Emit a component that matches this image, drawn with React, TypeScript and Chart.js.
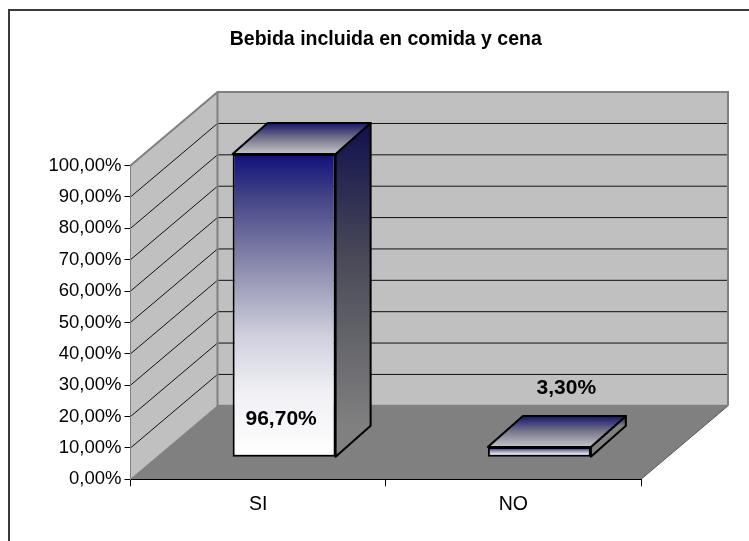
import React, { useEffect, useRef } from "react";
import { Chart, registerables } from "chart.js";

Chart.register(...registerables);

const categories = ["SI", "NO"];
const shares = [96.7, 3.3];
const shareLabels = ["96,70%", "3,30%"];
const chartTitle = "Bebida incluida en comida y cena";

const FONT = "'Liberation Sans', Arial, sans-serif";
const PLOT = { left: 130.5, right: 641, top: 165.6, bottom: 479.3 };
const WALL = { dx: 87, dy: -73.5 };
const BAR_SHIFT = { dx: 26, dy: -22 };
const BAR_DEPTH = { dx: 35, dy: -31 };
const LABEL_SHIFT = [
  { dx: -3, dy: -38 },
  { dx: 27, dy: -69 },
];

function poly(ctx: CanvasRenderingContext2D, pts: number[][]) {
  ctx.beginPath();
  pts.forEach((p, i) => (i ? ctx.lineTo(p[0], p[1]) : ctx.moveTo(p[0], p[1])));
  ctx.closePath();
}

const frontGradient = (c: any) => {
  const chart = c.chart;
  if (!chart.chartArea || c.raw === undefined) return "#8888aa";
  const y = chart.scales.y;
  const g = chart.ctx.createLinearGradient(0, y.getPixelForValue(c.raw), 0, y.getPixelForValue(0));
  g.addColorStop(0, "#10107c");
  g.addColorStop(0.15, "#464688");
  g.addColorStop(0.38, "#8e8eb0");
  g.addColorStop(0.6, "#d0d0de");
  g.addColorStop(0.78, "#efeff5");
  g.addColorStop(1, "#ffffff");
  return g;
};

const scenePlugin = {
  id: "scene3d",
  beforeDraw(chart: any) {
    const { ctx, chartArea: a, scales } = chart;
    const { dx, dy } = WALL;
    ctx.save();
    // outer frame
    ctx.strokeStyle = "#3a3a3a";
    ctx.lineWidth = 2;
    ctx.beginPath();
    ctx.moveTo(9, 541);
    ctx.lineTo(9, 10);
    ctx.lineTo(749, 10);
    ctx.stroke();
    // back wall
    ctx.fillStyle = "#c0c0c0";
    ctx.fillRect(a.left + dx, a.top + dy, a.right - a.left, a.bottom - a.top);
    // left wall
    poly(ctx, [
      [a.left, a.top],
      [a.left + dx, a.top + dy],
      [a.left + dx, a.bottom + dy],
      [a.left, a.bottom],
    ]);
    ctx.fill();
    // grid lines
    ctx.strokeStyle = "#111";
    ctx.lineWidth = 1;
    for (const t of scales.y.ticks) {
      if (t.value === 0) continue;
      const y = scales.y.getPixelForValue(t.value);
      ctx.beginPath();
      ctx.moveTo(a.left, y);
      ctx.lineTo(a.left + dx, y + dy);
      ctx.lineTo(a.right + dx, y + dy);
      ctx.stroke();
    }
    // floor
    ctx.fillStyle = "#808080";
    poly(ctx, [
      [a.left, a.bottom],
      [a.left + dx, a.bottom + dy],
      [a.right + dx, a.bottom + dy],
      [a.right, a.bottom],
    ]);
    ctx.fill();
    ctx.strokeStyle = "#555";
    ctx.lineWidth = 1;
    ctx.beginPath();
    ctx.moveTo(a.right, a.bottom);
    ctx.lineTo(a.right + dx, a.bottom + dy);
    ctx.stroke();
    // wall edges
    ctx.strokeStyle = "#808080";
    ctx.lineWidth = 2;
    ctx.beginPath();
    ctx.moveTo(a.left, a.top);
    ctx.lineTo(a.left + dx, a.top + dy);
    ctx.lineTo(a.right + dx, a.top + dy);
    ctx.lineTo(a.right + dx, a.bottom + dy);
    ctx.moveTo(a.left + dx, a.top + dy);
    ctx.lineTo(a.left + dx, a.bottom + dy);
    ctx.lineTo(a.right + dx, a.bottom + dy);
    ctx.stroke();
    ctx.lineWidth = 1;
    ctx.beginPath();
    ctx.moveTo(a.left, a.top);
    ctx.lineTo(a.left, a.bottom);
    ctx.moveTo(a.left, a.bottom);
    ctx.lineTo(a.left + dx, a.bottom + dy);
    ctx.stroke();
    ctx.restore();
  },
  beforeDatasetDraw(chart: any) {
    chart.ctx.save();
    chart.ctx.translate(BAR_SHIFT.dx, BAR_SHIFT.dy);
  },
  afterDatasetDraw(chart: any, args: any) {
    const { ctx } = chart;
    const { dx, dy } = BAR_DEPTH;
    args.meta.data.forEach((bar: any) => {
      const l = bar.x - bar.width / 2;
      const r = bar.x + bar.width / 2;
      const top = bar.y;
      const base = bar.base;
      ctx.lineWidth = 2;
      ctx.strokeStyle = "#000";
      ctx.lineJoin = "round";
      // side face
      const side = ctx.createLinearGradient(0, top + dy, 0, base + dy);
      side.addColorStop(0, "#10104e");
      side.addColorStop(0.45, "#4a4a58");
      side.addColorStop(1, "#808080");
      ctx.fillStyle = side;
      poly(ctx, [
        [r, top],
        [r + dx, top + dy],
        [r + dx, base + dy],
        [r, base],
      ]);
      ctx.fill();
      ctx.stroke();
      // top face
      const cap = ctx.createLinearGradient(0, top + dy, 0, top);
      cap.addColorStop(0, "#14146e");
      cap.addColorStop(0.5, "#77778c");
      cap.addColorStop(1, "#c4c4c8");
      ctx.fillStyle = cap;
      poly(ctx, [
        [l, top],
        [l + dx, top + dy],
        [r + dx, top + dy],
        [r, top],
      ]);
      ctx.fill();
      ctx.stroke();
    });
    ctx.restore();
  },
  afterDatasetsDraw(chart: any) {
    const { ctx } = chart;
    const meta = chart.getDatasetMeta(0);
    ctx.save();
    ctx.font = `bold 21px ${FONT}`;
    ctx.fillStyle = "#000";
    ctx.textAlign = "center";
    ctx.textBaseline = "middle";
    meta.data.forEach((bar: any, i: number) => {
      ctx.fillText(
        shareLabels[i],
        bar.x + BAR_SHIFT.dx + LABEL_SHIFT[i].dx,
        bar.base + BAR_SHIFT.dy + LABEL_SHIFT[i].dy
      );
    });
    ctx.restore();
  },
};

export default function App() {
  const ref = useRef<HTMLCanvasElement>(null);
  useEffect(() => {
    const chart = new Chart(ref.current!, {
      type: "bar",
      data: {
        labels: categories,
        datasets: [
          {
            data: shares,
            backgroundColor: frontGradient,
            borderColor: "#000",
            borderWidth: 2,
            borderSkipped: false,
            categoryPercentage: 0.4035,
            barPercentage: 1,
          },
        ],
      },
      plugins: [scenePlugin],
      options: {
        responsive: false,
        animation: false,
        devicePixelRatio: 1,
        layout: {
          padding: { left: 0, right: 749 - PLOT.right, top: 0, bottom: 0 },
        },
        plugins: {
          legend: { display: false },
          tooltip: { enabled: false },
          title: {
            display: true,
            text: chartTitle,
            fullSize: false,
            color: "#000",
            font: { family: FONT, size: 19.5, weight: "bold", lineHeight: 1.2 },
            padding: { top: 28, bottom: PLOT.top - 28 - 23.4 },
          },
        },
        scales: {
          x: {
            offset: true,
            afterFit: (s: any) => {
              s.height = 541 - PLOT.bottom;
            },
            border: { display: true, color: "#000", width: 1 },
            grid: {
              offset: true,
              drawOnChartArea: false,
              drawTicks: true,
              tickLength: 7,
              color: "#000",
            },
            ticks: {
              color: "#000",
              padding: 7,
              font: { family: FONT, size: 19.5 },
              maxRotation: 0,
            },
          },
          y: {
            min: 0,
            max: 100,
            afterFit: (s: any) => {
              s.width = PLOT.left;
            },
            border: { display: true, color: "#808080", width: 1 },
            grid: {
              drawOnChartArea: false,
              drawTicks: true,
              tickLength: 6,
              color: "#000",
            },
            ticks: {
              stepSize: 10,
              color: "#000",
              padding: 3,
              font: { family: FONT, size: 18.5 },
              callback: (v: any) => Number(v).toFixed(2).replace(".", ",") + "%",
            },
          },
        },
      },
    } as any);
    return () => chart.destroy();
  }, []);
  return (
    <div style={{ position: "absolute", left: 0, top: 0, width: 749, height: 541 }}>
      <canvas ref={ref} width={749} height={541} style={{ display: "block" }} />
    </div>
  );
}
